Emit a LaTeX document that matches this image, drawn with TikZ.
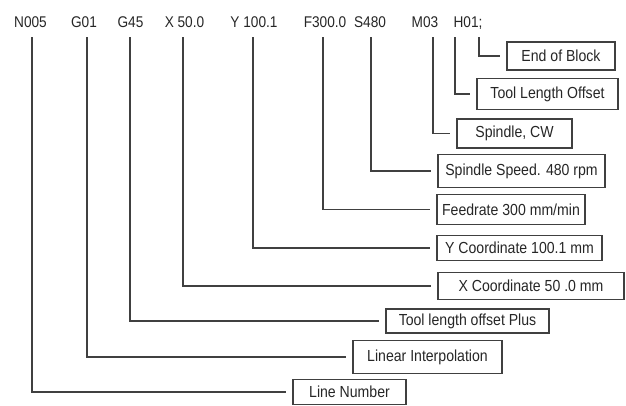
\documentclass[tikz,border=0pt]{standalone}
\usepackage{fontspec}
\setmainfont{Liberation Sans}[FakeStretch=0.88]
\usetikzlibrary{calc}

\begin{document}
\begin{tikzpicture}[x=1pt,y=-1pt,
    code/.style={anchor=base,font=\fontsize{15.5}{18}\selectfont,text=black!85},
    box/.style={draw=black!75,line width=1.1pt,inner sep=0pt,font=\fontsize{16}{18}\selectfont,text=black!85},
    lead/.style={draw=black!75,line width=1.1pt,shorten >=6pt}]
    \useasboundingbox (0,0) rectangle (626,405);
    % program block words
    \node[code] (tN) at (30.5,27) {N005};
    \node[code] (tG1) at (84,27) {G01};
    \node[code] (tG4) at (130.5,27) {G45};
    \node[code] (tX) at (184.5,27) {X 50.0};
    \node[code] (tY) at (254,27) {Y 100.1};
    \node[code] (tF) at (325,27) {F300.0};
    \node[code] (tS) at (370,27) {S480};
    \node[code] (tM) at (425,27) {M03};
    \node[code] (tH) at (468,27) {H01;};
    % meanings
    \node[box,minimum width=108pt,minimum height=28pt] (eob) at (561,56) {End of Block};
    \node[box,minimum width=141pt,minimum height=31pt] (tlo) at (547.5,94) {Tool Length Offset};
    \node[box,minimum width=115pt,minimum height=29pt] (scw) at (514.5,133.5) {Spindle, CW};
    \node[box,minimum width=167pt,minimum height=33pt] (ssp) at (521.5,171) {Spindle Speed. 480 rpm};
    \node[box,minimum width=148pt,minimum height=30pt] (fed) at (511,209.5) {Feedrate 300 mm/min};
    \node[box,minimum width=165pt,minimum height=25pt] (ycd) at (519.5,248) {Y Coordinate 100.1 mm};
    \node[box,minimum width=186pt,minimum height=27pt] (xcd) at (531,286) {X Coordinate 50 .0 mm};
    \node[box,minimum width=163pt,minimum height=24pt] (tlp) at (467.5,321) {Tool length offset Plus};
    \node[box,minimum width=149pt,minimum height=33pt] (lin) at (427.5,357) {Linear Interpolation};
    \node[box,minimum width=113pt,minimum height=25pt] (lno) at (349.5,392) {Line Number};
    % leader start points
    \coordinate (sN) at (32,37);
    \coordinate (sG1) at (87,37);
    \coordinate (sG4) at (130,37);
    \coordinate (sX) at (183,37);
    \coordinate (sY) at (253,37);
    \coordinate (sF) at (323,37);
    \coordinate (sS) at (371,37);
    \coordinate (sM) at (433,37);
    \coordinate (sH) at (455,37);
    \coordinate (sE) at (479,37);
    \foreach \s/\b in {sN/lno,sG1/lin,sG4/tlp,sX/xcd,sY/ycd,sF/fed,sS/ssp,sM/scw,sH/tlo,sE/eob}
        \draw[lead] (\s) |- (\b.west);
\end{tikzpicture}
\end{document}
